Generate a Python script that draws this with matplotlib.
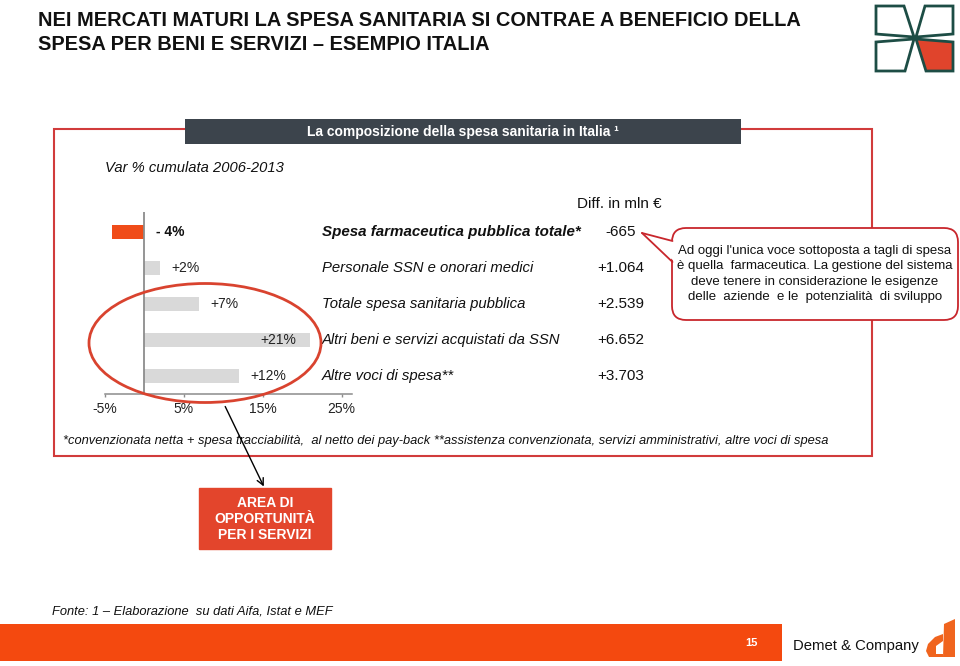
import matplotlib
matplotlib.use("Agg")
import matplotlib.pyplot as plt
from matplotlib import font_manager
from matplotlib.patches import Rectangle, Ellipse, FancyBboxPatch, Polygon
import matplotlib.transforms as mtransforms

# ---------------- data ----------------
categories = ["Spesa farmaceutica pubblica totale*",
              "Personale SSN e onorari medici",
              "Totale spesa sanitaria pubblica",
              "Altri beni e servizi acquistati da SSN",
              "Altre voci di spesa**"]
var_pct = [-4, 2, 7, 21, 12]
pct_labels = ["- 4%", "+2%", "+7%", "+21%", "+12%"]
diff_mln = ["-665", "+1.064", "+2.539", "+6.652", "+3.703"]
xticks = [-5, 5, 15, 25]
xtick_labels = ["-5%", "5%", "15%", "25%"]

# ---------------- fonts ----------------
names = {f.name for f in font_manager.fontManager.ttflist}
SANS = "Liberation Sans" if "Liberation Sans" in names else "DejaVu Sans"
NARROW = "Liberation Sans Narrow" if "Liberation Sans Narrow" in names else SANS
title_size = 15 if NARROW != SANS else 14.4
plt.rcParams["font.family"] = [SANS, "DejaVu Sans"]

W, H = 960, 666
fig = plt.figure(figsize=(W / 100, H / 100), dpi=100)
fig.patch.set_facecolor("white")

def fx(x):
    return x / W

def fy(y):
    return 1 - y / H

# ---------------- bar chart axes ----------------
px_per_pct = 7.9
zero_px = 144
xmin, xmax = -5, 26.3
ax_left = zero_px + xmin * px_per_pct
ax_right = zero_px + xmax * px_per_pct
ax_top, ax_bot = 212, 394
ax = fig.add_axes([fx(ax_left), fy(ax_bot), fx(ax_right - ax_left), (ax_bot - ax_top) / H])
ax.set_zorder(2)
ax.patch.set_alpha(0)

ypos = list(range(len(categories)))
colors = ["#f04c19" if v < 0 else "#d9d9d9" for v in var_pct]
ax.barh(ypos, var_pct, height=0.39, color=colors, edgecolor="none", zorder=2)
ax.set_xlim(xmin, xmax)
ax.set_ylim(4.5, -0.556)
ax.axvline(0, color="#8c8c8c", lw=1.3, zorder=3)
for s in ["left", "right", "top"]:
    ax.spines[s].set_visible(False)
ax.spines["bottom"].set_color("#8c8c8c")
ax.spines["bottom"].set_linewidth(1.1)
ax.set_yticks([])
ax.set_xticks(xticks)
ax.set_xticklabels(xtick_labels, fontsize=10, color="#222222")
ax.tick_params(axis="x", direction="out", length=2.5, width=1, color="#8c8c8c", pad=3)

vmax = max(var_pct)
for i, (v, lab) in enumerate(zip(var_pct, pct_labels)):
    if v < 0:
        ax.annotate(lab, xy=(0, i), xytext=(9, 0), textcoords="offset points",
                    ha="left", va="center", fontsize=10, fontweight="bold", color="#111111")
    elif v == vmax:
        ax.annotate(lab, xy=(v, i), xytext=(-10, 0), textcoords="offset points",
                    ha="right", va="center", fontsize=10, color="#222222")
    else:
        ax.annotate(lab, xy=(v, i), xytext=(8, 0), textcoords="offset points",
                    ha="left", va="center", fontsize=10, color="#222222")

# row labels and differences (x in figure, y in data)
blend = mtransforms.blended_transform_factory(fig.transFigure, ax.transData)
for i, (cat, d) in enumerate(zip(categories, diff_mln)):
    ax.text(fx(322), i, cat, transform=blend, ha="left", va="center",
            fontsize=10.9 if i == 0 else 10.7,
            style="italic", fontweight="bold" if i == 0 else "normal",
            color="#111111", clip_on=False)
    ax.text(fx(621), i, d, transform=blend, ha="center", va="center", fontsize=11,
            color="#111111", clip_on=False)

# ---------------- overlay in pixel coordinates ----------------
ov = fig.add_axes([0, 0, 1, 1])
ov.set_xlim(0, W)
ov.set_ylim(H, 0)
ov.axis("off")
ov.patch.set_alpha(0)
ov.set_zorder(3)

# title
ov.text(38, 21, "NEI MERCATI MATURI LA SPESA SANITARIA SI CONTRAE A BENEFICIO DELLA",
        family=NARROW, fontweight="bold", fontsize=title_size, ha="left", va="center", color="#111111")
ov.text(38, 45, "SPESA PER BENI E SERVIZI – ESEMPIO ITALIA",
        family=NARROW, fontweight="bold", fontsize=title_size, ha="left", va="center", color="#111111")

# logo top right
teal = "#1d4d45"
logo_red = "#e0442c"
quads = [
    [(876, 6), (904, 6), (914, 37), (876, 34)],
    [(925, 6), (953, 6), (953, 34), (916, 37)],
    [(876, 42), (914, 39), (905, 71), (876, 71)],
]
for q in quads:
    ov.add_patch(Polygon(q, closed=True, facecolor="white", edgecolor=teal, lw=2, zorder=5))
ov.add_patch(Polygon([(916, 39), (953, 42), (953, 71), (926, 71)], closed=True,
                     facecolor=logo_red, edgecolor=teal, lw=2, zorder=5))

# frame
frame_red = "#d13b3b"
ov.add_patch(Rectangle((54, 129), 872 - 54, 456 - 129, fill=False, edgecolor=frame_red, lw=1.5, zorder=1))
# header bar
ov.add_patch(Rectangle((185, 119), 741 - 185, 144 - 119, facecolor="#3c444c", edgecolor="none", zorder=2))
ov.text(463, 132, "La composizione della spesa sanitaria in Italia ¹", color="white",
        fontweight="bold", fontsize=10, ha="center", va="center", zorder=3)

ov.text(105, 168, "Var % cumulata 2006-2013", style="italic", fontsize=10.6,
        ha="left", va="center", color="#111111")
ov.text(662, 204, "Diff. in mln €", fontsize=11, ha="right", va="center", color="#111111")

# callout
ov.add_patch(FancyBboxPatch((672, 228), 958 - 672, 320 - 228,
                            boxstyle="round,pad=0,rounding_size=14",
                            facecolor="white", edgecolor="#c8262c", lw=1.3, zorder=4))
ov.add_patch(Polygon([(675, 241), (642, 233), (675, 262)], closed=True,
                     facecolor="white", edgecolor="none", zorder=4.5))
ov.plot([642, 672.5], [233, 241], color="#c8262c", lw=1.3, zorder=4.6, solid_capstyle="round")
ov.plot([642, 672.5], [233, 262], color="#c8262c", lw=1.3, zorder=4.6, solid_capstyle="round")
ov.text(815, 274, "Ad oggi l'unica voce sottoposta a tagli di spesa\n"
                  "è quella  farmaceutica. La gestione del sistema\n"
                  "deve tenere in considerazione le esigenze\n"
                  "delle  aziende  e le  potenzialità  di sviluppo",
        ha="center", va="center", fontsize=9.5, linespacing=1.35, color="#111111", zorder=5)

# footnote
ov.text(63, 441, "*convenzionata netta + spesa tracciabilità,  al netto dei pay-back **assistenza "
                 "convenzionata, servizi amministrativi, altre voci di spesa",
        style="italic", fontsize=9.3, ha="left", va="center", color="#111111", zorder=3)

# ellipse highlight
ov.add_patch(Ellipse((205, 343), 232, 119, fill=False, edgecolor="#d9432f", lw=2, zorder=6))

# arrow
ov.annotate("", xy=(265, 489), xytext=(224, 404),
            arrowprops=dict(arrowstyle="->", color="black", lw=1, mutation_scale=12), zorder=6)

# AREA DI OPPORTUNITA box
ov.add_patch(Rectangle((199, 488), 331 - 199, 549 - 488, facecolor="#e3452c", edgecolor="#e3452c", zorder=3))
ov.text(265, 519, "AREA DI\nOPPORTUNITÀ\nPER I SERVIZI", color="white", fontweight="bold",
        fontsize=10, ha="center", va="center", linespacing=1.15, zorder=4)

# source
ov.text(52, 612, "Fonte: 1 – Elaborazione  su dati Aifa, Istat e MEF", style="italic",
        fontsize=9.3, ha="left", va="center", color="#111111")

# bottom bar
ov.add_patch(Rectangle((0, 624), 782, 661 - 624, facecolor="#f4490f", edgecolor="none", zorder=2))
ov.text(751, 643, "15", color="white", fontweight="bold", fontsize=8, ha="center", va="center", zorder=3)
ov.text(793, 646, "Demet & Company", fontsize=10.7, ha="left", va="center", color="#111111")
# "d" logo
orange = "#f0641e"
ov.add_patch(Polygon([(944, 624), (955, 619), (955, 657), (943, 657)], closed=True,
                     facecolor=orange, edgecolor="none", zorder=3))
ov.add_patch(Polygon([(943, 634), (935, 637), (928, 644), (926, 651), (929, 657), (943, 657)],
                     closed=True, facecolor=orange, edgecolor="none", zorder=3))
ov.add_patch(Polygon([(936, 646), (943, 641), (943, 654), (936, 654)],
                     closed=True, facecolor="white", edgecolor="none", zorder=3.5))

fig.savefig("out.png", dpi=100, facecolor="white")
